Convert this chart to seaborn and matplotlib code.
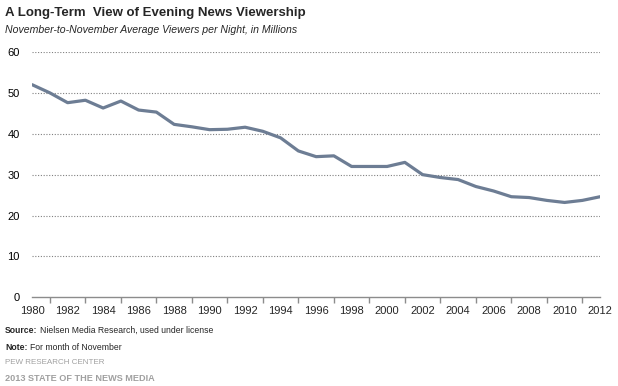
import matplotlib
matplotlib.use("Agg")
import matplotlib.pyplot as plt
import pandas as pd
import seaborn as sns

# Average evening news viewers per night (millions), November of each year
years = list(range(1980, 2013))
viewers = [52.0, 50.0, 47.6, 48.2, 46.3, 48.0, 45.8, 45.3, 42.3, 41.7,
           41.0, 41.1, 41.6, 40.6, 39.0, 35.8, 34.4, 34.6, 32.0, 32.0,
           32.0, 33.0, 30.0, 29.3, 28.8, 27.1, 26.0, 24.6, 24.4, 23.7,
           23.2, 23.7, 24.6]
y_ticks = [0, 10, 20, 30, 40, 50, 60]

df = pd.DataFrame({"year": years, "viewers": viewers})

sns.set_theme(style="white")
plt.rcParams["font.family"] = ["Liberation Sans", "DejaVu Sans"]

fig = plt.figure(figsize=(6.18, 3.86), dpi=100)
ax = fig.add_axes([0.052, 0.2298, 0.919, 0.6355])

sns.lineplot(data=df, x="year", y="viewers", ax=ax, color="#6d7d94", linewidth=2.3)

ax.set_xlim(1980, 2012)
ax.set_ylim(0, 60)
ax.set_yticks(y_ticks)
ax.set_xticks(years, minor=True)
ax.set_xticks(years[::2])
ax.set_xticklabels([str(y) for y in years[::2]])
ax.set_xlabel("")
ax.set_ylabel("")

# dotted gridlines
for t in y_ticks[1:]:
    ax.axhline(t, color="#808080", linestyle=(0, (1, 1.5)), linewidth=0.8, zorder=0)

for side in ["left", "right", "top"]:
    ax.spines[side].set_visible(False)
ax.spines["bottom"].set_color("#8c8c8c")
ax.spines["bottom"].set_linewidth(1.0)

ax.tick_params(axis="y", length=0, labelsize=8, pad=9, colors="black")
ax.tick_params(axis="x", which="both", direction="out", length=4, width=1,
               color="#8c8c8c", labelsize=8, pad=2)
ax.tick_params(axis="x", which="minor", bottom=True)

# Titles
fig.text(0.008, 0.966, "A Long-Term  View of Evening News Viewership",
         fontsize=9.5, fontweight="bold", va="center")
fig.text(0.008, 0.922, "November-to-November Average Viewers per Night, in Millions",
         fontsize=7.6, style="italic", va="center")

# Footer: bold label followed by plain text right after it
src = fig.text(0.008, 0.143, "Source:", fontsize=6.2, fontweight="bold", va="center")
note = fig.text(0.008, 0.101, "Note:", fontsize=6.2, fontweight="bold", va="center")
fig.canvas.draw()
for label, rest in [(src, "Nielsen Media Research, used under license"),
                    (note, "For month of November")]:
    bb = label.get_window_extent().transformed(fig.transFigure.inverted())
    fig.text(bb.x1 + 0.004, label.get_position()[1], rest, fontsize=6.2, va="center")

fig.text(0.008, 0.060, "PEW RESEARCH CENTER", fontsize=5.8, color="#a0a0a0", va="center")
fig.text(0.008, 0.020, "2013 STATE OF THE NEWS MEDIA", fontsize=6.6, fontweight="bold",
         color="#a0a0a0", va="center")

fig.savefig("out.png", dpi=100)
